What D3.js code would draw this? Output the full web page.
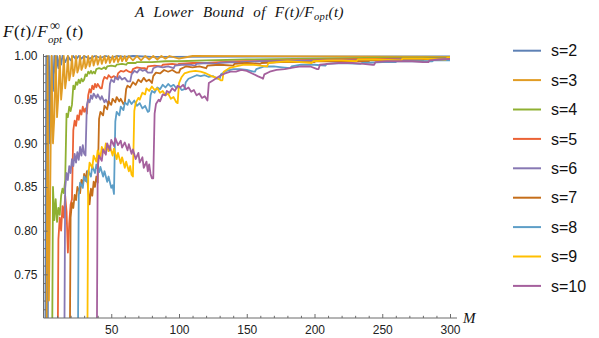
<!DOCTYPE html>
<html><head><meta charset="utf-8">
<script src="https://cdn.jsdelivr.net/npm/d3@7"></script>
<style>body{margin:0;background:#fff;} svg{display:block;}</style>
</head><body><svg id="c" width="599" height="338"></svg>
<script>
const seriesNames = ["s=2","s=3","s=4","s=5","s=6","s=7","s=8","s=9","s=10"];
const colors = ["#5E81B5","#E19C24","#8FB032","#EB6235","#8778B3","#C56E1A","#5D9EC7","#FFBF00","#A5609D"];
const xTicks = [50,100,150,200,250,300];
const yTicks = [0.75,0.80,0.85,0.90,0.95,1.00];

const s2 = [[1,0.5],[2,1],[3,0.62],[4,1],[5,0.9],[6,1],[7,0.96],[8,1],[9,0.98],[10,1],[11,0.986],[12,1],[13,0.99],[14,1],[16,0.993],[18,1],[20,0.995],[22,1],[24,0.996],[26,1],[28,0.997],[30,1],[34,0.997],[38,1],[42,0.998],[46,1],[50,0.998],[54,1],[60,0.999],[66,1],[80,0.999],[300,0.9995]];
const s3 = [[1,0.5],[2,0.55],[3,1],[4,0.72],[5,0.85],[6,1],[7,0.9],[8,0.93],[9,1],[10,0.93],[11,0.955],[12,1],[13,0.95],[14,0.968],[15,1],[16,0.963],[17,0.975],[18,1],[19,0.972],[20,0.98],[21,1],[22,0.977],[23,0.984],[24,1],[25,0.981],[26,0.986],[27,1],[28,0.984],[29,0.988],[30,1],[31,0.986],[32,0.99],[33,1],[34,0.988],[36,1],[37,0.989],[39,1],[40,0.99],[42,1],[43,0.991],[45,1],[46,0.992],[48,1],[49,0.992],[51,1],[52,0.993],[54,1],[55,0.993],[57,1],[58,0.994],[60,1],[61,0.994],[63,1],[66,0.995],[69,1],[72,0.995],[75,1],[78,0.996],[81,1],[84,0.996],[87,1],[90,0.997],[93,1],[100,0.997],[110,1],[300,0.999]];
const s4 = [[6,0.55],[7,0.85],[8,0.812],[9,0.836],[10,0.81],[11,0.826],[12,0.818],[13,0.84],[14,0.848],[15,0.843],[16,0.858],[17,0.934],[18,0.93],[19,0.942],[20,0.937],[21,0.944],[22,0.966],[23,0.962],[24,0.97],[25,0.967],[26,0.973],[27,0.969],[28,0.974],[29,0.971],[30,0.973],[31,0.979],[32,0.977],[33,0.982],[34,0.98],[35,0.983],[36,0.98],[37,0.982],[38,0.98],[39,0.985],[41,0.986],[43,0.985],[45,0.987],[46,0.985],[47,0.988],[50,0.989],[53,0.988],[54,0.99],[58,0.991],[61,0.99],[62,0.992],[68,0.992],[69,0.993],[80,0.993],[90,0.994],[100,0.994],[120,0.995],[150,0.996],[200,0.997],[250,0.998],[300,0.998]];
const s5 = [[10,0.55],[11,0.79],[12,0.815],[13,0.8],[14,0.828],[15,0.815],[16,0.84],[17,0.822],[18,0.775],[19,0.808],[20,0.83],[21,0.836],[22,0.915],[23,0.926],[24,0.92],[25,0.932],[26,0.927],[27,0.938],[28,0.933],[29,0.942],[30,0.936],[31,0.94],[32,0.934],[33,0.955],[34,0.962],[35,0.958],[36,0.966],[37,0.962],[38,0.968],[39,0.964],[40,0.968],[42,0.963],[43,0.963],[44,0.972],[45,0.976],[47,0.974],[48,0.978],[50,0.975],[52,0.977],[54,0.974],[55,0.98],[57,0.983],[59,0.982],[61,0.984],[63,0.982],[65,0.981],[66,0.985],[69,0.987],[72,0.986],[75,0.986],[76,0.984],[77,0.988],[82,0.989],[87,0.988],[88,0.99],[95,0.991],[99,0.99],[100,0.991],[110,0.992],[121,0.992],[130,0.993],[150,0.994],[180,0.995],[220,0.996],[260,0.997],[300,0.997]];
const s6 = [[15,0.55],[16,0.848],[17,0.866],[18,0.858],[19,0.874],[20,0.866],[21,0.882],[22,0.874],[23,0.888],[24,0.878],[25,0.89],[26,0.881],[27,0.896],[28,0.886],[29,0.898],[30,0.888],[31,0.886],[32,0.944],[33,0.95],[34,0.947],[35,0.955],[36,0.951],[37,0.957],[39,0.952],[40,0.956],[42,0.95],[43,0.954],[45,0.947],[46,0.95],[48,0.944],[49,0.968],[50,0.973],[52,0.97],[53,0.976],[55,0.973],[56,0.977],[58,0.973],[60,0.975],[62,0.971],[64,0.971],[65,0.979],[67,0.983],[69,0.981],[71,0.985],[73,0.983],[75,0.984],[77,0.981],[80,0.981],[81,0.986],[84,0.988],[88,0.987],[92,0.988],[96,0.986],[97,0.989],[102,0.99],[108,0.99],[112,0.989],[113,0.991],[120,0.992],[128,0.991],[129,0.992],[140,0.993],[145,0.992],[146,0.993],[160,0.994],[180,0.994],[200,0.995],[230,0.995],[260,0.996],[300,0.997]];
const s7 = [[19,0.55],[20,0.815],[21,0.832],[22,0.826],[23,0.841],[24,0.835],[25,0.85],[27,0.843],[28,0.858],[29,0.852],[30,0.865],[31,0.857],[32,0.868],[33,0.846],[34,0.83],[35,0.848],[36,0.84],[37,0.856],[38,0.85],[39,0.862],[40,0.855],[41,0.928],[42,0.936],[44,0.932],[45,0.943],[47,0.939],[48,0.948],[50,0.944],[51,0.951],[53,0.947],[54,0.953],[56,0.948],[57,0.951],[59,0.945],[60,0.947],[61,0.962],[62,0.966],[64,0.964],[66,0.97],[68,0.967],[70,0.973],[72,0.97],[74,0.975],[76,0.971],[78,0.973],[80,0.969],[81,0.977],[83,0.981],[86,0.98],[89,0.984],[92,0.982],[95,0.984],[98,0.981],[100,0.981],[101,0.985],[105,0.988],[110,0.987],[115,0.988],[120,0.986],[121,0.989],[130,0.99],[140,0.989],[141,0.991],[150,0.992],[160,0.991],[161,0.992],[175,0.993],[190,0.993],[200,0.993],[201,0.994],[220,0.994],[240,0.994],[241,0.995],[260,0.995],[280,0.995],[281,0.996],[300,0.996]];
const s8 = [[25,0.55],[26,0.84],[27,0.855],[29,0.849],[30,0.862],[32,0.856],[33,0.869],[35,0.862],[36,0.874],[38,0.866],[39,0.876],[41,0.867],[42,0.873],[44,0.862],[45,0.868],[47,0.856],[48,0.862],[50,0.849],[51,0.852],[52,0.842],[53,0.925],[54,0.936],[56,0.932],[57,0.942],[59,0.938],[60,0.947],[62,0.944],[63,0.95],[65,0.945],[67,0.949],[69,0.943],[71,0.946],[73,0.94],[75,0.943],[77,0.936],[78,0.937],[79,0.955],[80,0.96],[82,0.958],[84,0.964],[86,0.962],[88,0.967],[90,0.964],[92,0.968],[94,0.965],[96,0.967],[98,0.963],[100,0.965],[102,0.961],[104,0.962],[105,0.97],[107,0.974],[110,0.976],[113,0.978],[116,0.977],[119,0.978],[122,0.976],[125,0.977],[128,0.974],[130,0.974],[131,0.979],[135,0.983],[140,0.985],[145,0.985],[150,0.984],[155,0.982],[156,0.982],[157,0.985],[163,0.988],[170,0.988],[176,0.987],[182,0.986],[183,0.988],[190,0.99],[200,0.99],[208,0.989],[209,0.991],[220,0.992],[234,0.991],[235,0.992],[250,0.993],[260,0.993],[261,0.994],[280,0.994],[287,0.994],[288,0.995],[300,0.995]];
const s9 = [[32,0.55],[33,0.862],[34,0.878],[36,0.872],[37,0.886],[39,0.879],[40,0.892],[42,0.884],[43,0.896],[45,0.889],[46,0.9],[48,0.891],[49,0.897],[51,0.886],[52,0.894],[54,0.882],[55,0.889],[57,0.877],[58,0.884],[60,0.872],[61,0.879],[63,0.868],[64,0.874],[65,0.864],[66,0.862],[67,0.937],[68,0.946],[70,0.952],[71,0.95],[73,0.958],[75,0.956],[76,0.963],[78,0.96],[80,0.965],[82,0.961],[84,0.963],[86,0.958],[88,0.96],[90,0.955],[92,0.957],[94,0.951],[96,0.953],[98,0.947],[99,0.946],[100,0.969],[102,0.976],[104,0.98],[108,0.982],[112,0.983],[116,0.982],[120,0.98],[124,0.977],[128,0.975],[131,0.972],[132,0.972],[133,0.982],[137,0.986],[142,0.988],[148,0.99],[155,0.99],[160,0.989],[165,0.988],[166,0.992],[172,0.993],[180,0.994],[190,0.993],[198,0.992],[199,0.994],[210,0.995],[220,0.995],[231,0.994],[232,0.996],[245,0.996],[264,0.995],[265,0.997],[280,0.997],[297,0.996],[298,0.998],[300,0.998]];
const s10 = [[39,0.55],[40,0.872],[41,0.886],[43,0.88],[44,0.893],[46,0.887],[47,0.9],[49,0.892],[50,0.904],[52,0.897],[53,0.906],[55,0.898],[57,0.903],[58,0.895],[60,0.901],[62,0.892],[63,0.899],[65,0.888],[66,0.893],[68,0.882],[70,0.889],[71,0.878],[73,0.884],[74,0.872],[76,0.879],[77,0.868],[78,0.876],[79,0.865],[80,0.86],[81,0.86],[82,0.934],[83,0.945],[85,0.95],[86,0.948],[88,0.956],[90,0.955],[91,0.96],[93,0.958],[95,0.963],[97,0.96],[99,0.966],[101,0.964],[103,0.967],[105,0.962],[107,0.964],[109,0.959],[111,0.961],[113,0.955],[115,0.957],[117,0.952],[119,0.954],[121,0.949],[122,0.969],[125,0.972],[128,0.975],[131,0.978],[134,0.98],[138,0.982],[142,0.982],[146,0.984],[150,0.983],[154,0.98],[158,0.977],[161,0.975],[162,0.974],[163,0.979],[167,0.982],[172,0.984],[178,0.985],[185,0.987],[190,0.988],[197,0.988],[202,0.985],[203,0.985],[204,0.99],[210,0.991],[218,0.992],[228,0.992],[236,0.991],[243,0.99],[244,0.99],[245,0.993],[253,0.994],[262,0.994],[272,0.994],[280,0.993],[284,0.993],[285,0.995],[292,0.996],[300,0.9966]];
const seriesData = [s2,s3,s4,s5,s6,s7,s8,s9,s10];

const svg = d3.select("#c");
const x = d3.scaleLinear().domain([0,300]).range([43.5,450]);
const y = d3.scaleLinear().domain([0.70,1.00]).range([318,56]);
const axisColor = "#6b6b6b";
const serif = "'Liberation Serif','Times New Roman',serif";
const sans = "'Liberation Sans', Arial, sans-serif";

svg.append("defs").append("clipPath").attr("id","clip")
  .append("rect").attr("x",43.5).attr("y",50).attr("width",420).attr("height",268);

const line = d3.line().x(d=>x(d[0])).y(d=>y(d[1]));
const g = svg.append("g").attr("clip-path","url(#clip)");
seriesData.forEach((d,i)=>{
  g.append("path").datum(d).attr("d",line).attr("fill","none")
   .attr("stroke",colors[i]).attr("stroke-width",1.8).attr("stroke-linejoin","round");
});

// axes
const yMinor = d3.range(0.71,1.0001,0.01).filter(v=>Math.abs(Math.round(v*20)-v*20)>1e-6);
const xMinor = d3.range(10,301,10).filter(v=>v%50!==0);
const ax = svg.append("g");
ax.append("line").attr("x1",x(0)).attr("x2",457).attr("y1",318).attr("y2",318).attr("stroke",axisColor);
ax.append("line").attr("x1",x(0)).attr("x2",x(0)).attr("y1",318).attr("y2",54).attr("stroke",axisColor);
const yAx = d3.axisLeft(y).tickValues(yTicks).tickFormat(d3.format(".2f")).tickSize(-4).tickPadding(6).tickSizeOuter(0);
const yg = svg.append("g").attr("transform",`translate(${x(0)},0)`).call(yAx);
const yAxMin = d3.axisLeft(y).tickValues(yMinor).tickFormat("").tickSize(-2.2).tickSizeOuter(0);
const ygm = svg.append("g").attr("transform",`translate(${x(0)},0)`).call(yAxMin);
const xAx = d3.axisBottom(x).tickValues(xTicks).tickSize(-4).tickPadding(7).tickSizeOuter(0);
const xg = svg.append("g").attr("transform","translate(0,318)").call(xAx);
const xAxMin = d3.axisBottom(x).tickValues(xMinor).tickFormat("").tickSize(-2.2).tickSizeOuter(0);
const xgm = svg.append("g").attr("transform","translate(0,318)").call(xAxMin);
[yg,ygm,xg,xgm].forEach(a=>{
  a.select(".domain").remove();
  a.selectAll(".tick line").attr("stroke",axisColor);
  a.selectAll("text").attr("fill","#222").style("font-family",sans).style("font-size","12px");
});

// y label: main part, superscript and subscript as separate texts
const ylab = svg.append("text").attr("x",3).attr("y",37)
  .style("font-family",serif).style("font-size","17px").style("letter-spacing","0.6px").attr("fill","#111");
ylab.append("tspan").style("font-style","italic").text("F");
ylab.append("tspan").text("(");
ylab.append("tspan").style("font-style","italic").text("t");
ylab.append("tspan").text(")/");
ylab.append("tspan").style("font-style","italic").text("F");
svg.append("text").attr("x",50).attr("y",30).style("font-family",serif).style("font-size","14px").attr("fill","#111").text("∞");
svg.append("text").attr("x",48).attr("y",43).style("font-family",serif).style("font-size","11px").style("font-style","italic").attr("fill","#111").text("opt");
const ylab2 = svg.append("text").attr("x",66).attr("y",37)
  .style("font-family",serif).style("font-size","17px").style("letter-spacing","0.6px").attr("fill","#111");
ylab2.append("tspan").text("(");
ylab2.append("tspan").style("font-style","italic").text("t");
ylab2.append("tspan").text(")");

// title
const title = svg.append("text").attr("x",135).attr("y",17)
  .style("font-family",serif).style("font-size","15px").style("font-style","italic")
  .style("word-spacing","5px").style("letter-spacing","0.4px").attr("fill","#111");
title.append("tspan").text("A Lower Bound of F(t)/F");
title.append("tspan").attr("dy",3).style("font-size","10.5px").text("opt");
title.append("tspan").attr("dy",-3).text("(t)");

svg.append("text").attr("x",463).attr("y",323)
  .style("font-family",serif).style("font-size","15px").style("font-style","italic").attr("fill","#111").text("M");

// legend
const leg = svg.append("g");
seriesNames.forEach((n,i)=>{
  const cy = 50.7 + i*29.4;
  leg.append("line").attr("x1",513).attr("x2",541).attr("y1",cy).attr("y2",cy).attr("stroke",colors[i]).attr("stroke-width",2);
  leg.append("text").attr("x",551).attr("y",cy).attr("dy","0.36em")
    .style("font-family",sans).style("font-size","16px").attr("fill","#111").text(n);
});
</script></body></html>
